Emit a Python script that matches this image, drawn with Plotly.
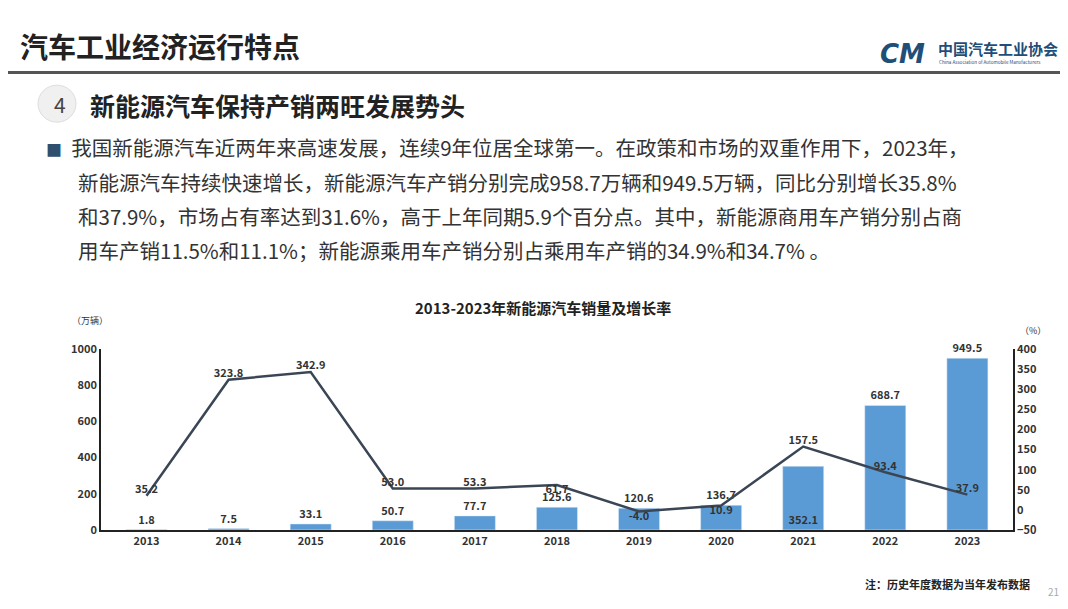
import plotly.graph_objects as go

years = ["2013","2014","2015","2016","2017","2018","2019","2020","2021","2022","2023"]
sales = [1.8, 7.5, 33.1, 50.7, 77.7, 125.6, 120.6, 136.7, 352.1, 688.7, 949.5]
growth = [35.2, 323.8, 342.9, 53.0, 53.3, 61.7, -4.0, 10.9, 157.5, 93.4, 37.9]
left_ticks = [0, 200, 400, 600, 800, 1000]
right_ticks = [-50, 0, 50, 100, 150, 200, 250, 300, 350, 400]

F = "Noto Sans CJK SC"
bar_pos = ["outside"]*8 + ["inside", "outside", "outside"]
line_pos = ["top center"]*5 + ["bottom center"]*3 + ["top center"]*3

fig = go.Figure()
fig.add_trace(go.Bar(x=years, y=sales, width=0.5, marker=dict(color="#5b9bd5"),
                     text=[f"<b>{v:.1f}</b>" for v in sales], textposition=bar_pos,
                     insidetextanchor="start", cliponaxis=False,
                     textfont=dict(family=F, size=11, color="#333"), constraintext="none"))
fig.add_trace(go.Scatter(x=years, y=growth, yaxis="y2", mode="lines+text",
                         line=dict(color="#3b4655", width=2.5),
                         text=[f"<b>{v:.1f}</b>" for v in growth], textposition=line_pos,
                         textfont=dict(family=F, size=11, color="#333"), cliponaxis=False))

tf = dict(size=11, color="#333", family=F, weight="bold")
fig.update_layout(
    width=1068, height=609, margin=dict(l=0, r=0, t=0, b=0),
    paper_bgcolor="white", plot_bgcolor="rgba(0,0,0,0)", showlegend=False,
    font=dict(family=F, color="#333"),
    xaxis=dict(domain=[0.087, 0.941], showline=True, linecolor="#222", linewidth=1.5,
               ticks="", tickfont=tf),
    yaxis=dict(domain=[0.135, 0.44], range=[0, 1000], tickvals=left_ticks, showgrid=False,
               showline=True, linecolor="#222", linewidth=1.5, zeroline=False, tickfont=tf),
    yaxis2=dict(overlaying="y", side="right", range=[-50, 400], tickvals=right_ticks,
                showgrid=False, showline=True, linecolor="#222", linewidth=1.5, zeroline=False,
                tickfont=tf),
)

para = ["我国新能源汽车近两年来高速发展，连续9年位居全球第一。在政策和市场的双重作用下，2023年，",
        "新能源汽车持续快速增长，新能源汽车产销分别完成958.7万辆和949.5万辆，同比分别增长35.8%",
        "和37.9%，市场占有率达到31.6%，高于上年同期5.9个百分点。其中，新能源商用车产销分别占商",
        "用车产销11.5%和11.1%；新能源乘用车产销分别占乘用车产销的34.9%和34.7% 。"]
ann = [
    dict(x=10, y=30, text="<b>汽车工业经济运行特点</b>", font=dict(size=28, color="#222")),
    dict(x=80, y=90, text="<b>新能源汽车保持产销两旺发展势头</b>", font=dict(size=25, color="#222")),
    dict(x=44, y=89, text="4", font=dict(size=21, color="#444")),
    dict(x=928, y=32, text="<b>中国汽车工业协会</b>", font=dict(size=15, color="#1f4e79")),
    dict(x=929, y=46, text="China Association of Automobile Manufacturers", font=dict(size=4.6, color="#1f4e79")),
    dict(x=870, y=38, text="<b><i>CM</i></b>", font=dict(size=26, color="#1f4e79", family="DejaVu Sans")),
    dict(x=535, y=298, text="<b>2013-2023年新能源汽车销量及增长率</b>", font=dict(size=15, color="#222"), xanchor="center"),
    dict(x=62, y=312, text="（万辆）", font=dict(size=9, color="#333")),
    dict(x=1010, y=322, text="（%）", font=dict(size=9, color="#333")),
    dict(x=855, y=582, text="<b>注：历史年度数据为当年发布数据</b>", font=dict(size=11, color="#222")),
    dict(x=1038, y=590, text="21", font=dict(size=10, color="#aaa")),
]
for i, line in enumerate(para):
    ann.append(dict(x=36 if i == 0 else 68, y=134 + 35*i,
                    text=("<span style='color:#2f4f6f;font-size:16px'>■</span>  " if i == 0 else "") + line,
                    font=dict(size=20.5, color="#333")))
for a in ann:
    a.setdefault("xanchor", "left")
    fig.add_annotation(xref="paper", yref="paper", x=a["x"]/1068, y=1-a["y"]/609,
                       text=a["text"], font=dict(family=a["font"].pop("family", F), **a["font"]),
                       xanchor=a["xanchor"], yanchor="middle", showarrow=False)

fig.add_shape(type="line", xref="paper", yref="paper", x0=0, x1=1, y0=1-57/609, y1=1-57/609,
              line=dict(color="#555", width=3))
fig.add_shape(type="circle", xref="paper", yref="paper", x0=30/1068, x1=68/1068,
              y0=1-108/609, y1=1-70/609, fillcolor="#f0f0f0", line=dict(color="#ddd", width=1), layer="below")
fig.write_html("out.html")
